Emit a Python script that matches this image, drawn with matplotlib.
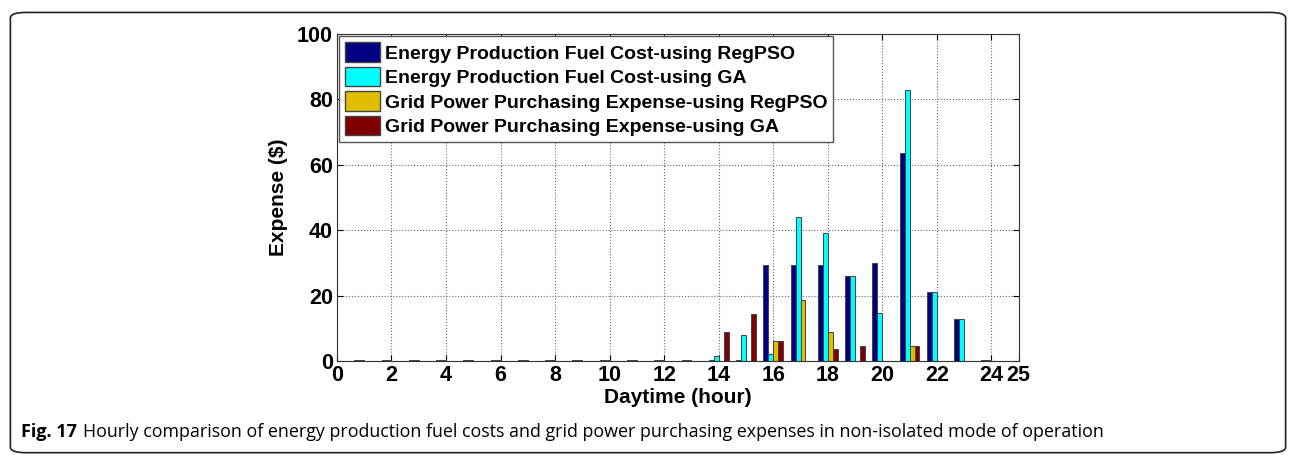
import numpy as np
import matplotlib.pyplot as plt
from matplotlib.patches import FancyBboxPatch, Patch

plt.rcParams['font.family'] = ['Liberation Sans', 'DejaVu Sans']

# --- data ---
hours = list(range(1, 25))
fuel_regpso = [0.3, 0.3, 0.3, 0.3, 0.3, 0.3, 0.3, 0.3, 0.3, 0.3, 0.3, 0.3, 0.3,
               0.3, 0.3, 29.3, 29.3, 29.3, 25.9, 30.1, 63.5, 21.1, 12.8, 0.3]
fuel_ga = [0.3, 0.3, 0.3, 0.3, 0.3, 0.3, 0.3, 0.3, 0.3, 0.3, 0.3, 0.3, 0.3,
           1.6, 7.9, 2.1, 44.1, 39.0, 25.9, 14.7, 82.8, 21.1, 12.8, 0.3]
grid_regpso = [0, 0, 0, 0, 0, 0, 0, 0, 0, 0, 0, 0, 0,
               0, 0, 6.0, 18.6, 8.9, 0, 0, 4.7, 0, 0, 0]
grid_ga = [0, 0, 0, 0, 0, 0, 0, 0, 0, 0, 0, 0, 0,
           8.9, 14.3, 6.0, 0, 3.8, 4.5, 0, 4.7, 0, 0, 0]

series = [fuel_regpso, fuel_ga, grid_regpso, grid_ga]
labels = ['Energy Production Fuel Cost-using RegPSO',
          'Energy Production Fuel Cost-using GA',
          'Grid Power Purchasing Expense-using RegPSO',
          'Grid Power Purchasing Expense-using GA']
colors = ['#000080', '#00FFFF', '#E2BE00', '#7F0000']

xticks = [0, 2, 4, 6, 8, 10, 12, 14, 16, 18, 20, 22, 24, 25]
yticks = [0, 20, 40, 60, 80, 100]

fig = plt.figure(figsize=(12.96, 4.61), dpi=100)

# outer rounded frame
frame = FancyBboxPatch((0.008, 0.018), 0.984, 0.955,
                       boxstyle="round,pad=0,rounding_size=0.012",
                       transform=fig.transFigure, fill=False,
                       edgecolor='#222222', linewidth=1.2)
fig.patches.append(frame)

ax = fig.add_axes([0.260, 0.217, 0.526, 0.709])

x = np.array(hours, dtype=float)
gw = 0.727
bw = gw / 4
for k, (vals, col) in enumerate(zip(series, colors)):
    off = (k - 1.5) * bw
    ax.bar(x + off, vals, width=bw, color=col, edgecolor='#444444',
           linewidth=0.7, label=labels[k])

ax.set_xlim(0, 25)
ax.set_ylim(0, 100)
ax.set_xticks(xticks)
ax.set_yticks(yticks)
ax.tick_params(direction='in', top=True, right=True, length=4,
               labelsize=15.5, width=0.8, pad=3)
for t in ax.get_xticklabels() + ax.get_yticklabels():
    t.set_fontweight('bold')
ax.grid(True, linestyle=':', color='#666666', linewidth=0.8)
ax.set_axisbelow(True)
for s in ax.spines.values():
    s.set_color('#333333')

ax.set_xlabel('Daytime (hour)', fontsize=15, fontweight='bold', labelpad=1)
ax.set_ylabel('Expense ($)', fontsize=15, fontweight='bold', labelpad=6)

handles = [Patch(facecolor=c, edgecolor='#444444') for c in colors]
leg = ax.legend(handles, labels, loc='upper left',
                prop={'weight': 'bold', 'size': 14},
                handlelength=1.8, handleheight=1.15, handletextpad=0.25,
                labelspacing=0.22, borderaxespad=0.12, borderpad=0.3,
                fancybox=False, framealpha=1, edgecolor='#555555')

fig.text(0.016, 0.062, 'Fig. 17', fontsize=13, fontweight='bold',
         family='Open Sans', va='center')
fig.text(0.064, 0.062,
         'Hourly comparison of energy production fuel costs and grid power '
         'purchasing expenses in non-isolated mode of operation',
         fontsize=12.9, family='Open Sans', va='center')

fig.savefig('out.png', dpi=100)
